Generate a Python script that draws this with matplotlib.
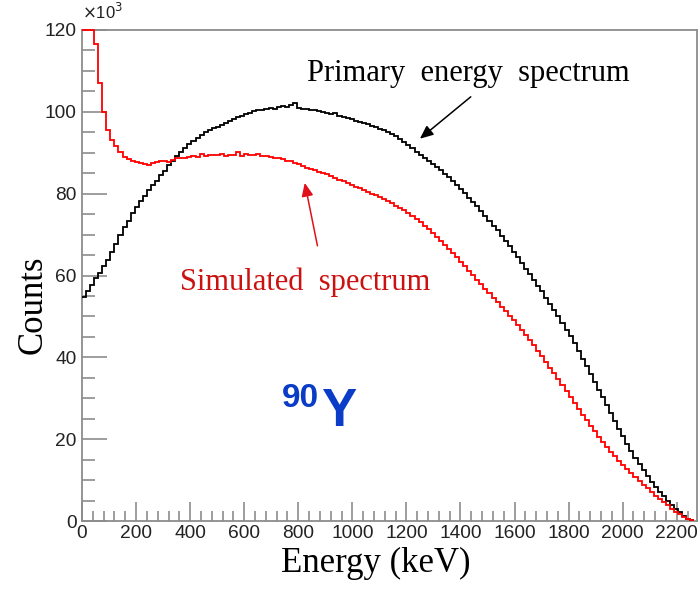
import matplotlib
matplotlib.use("Agg")
import matplotlib.pyplot as plt
from matplotlib.ticker import MultipleLocator
import numpy as np

# histogram binning (keV)
bin_width = 15
n_bins = 151
edges = np.arange(n_bins + 1) * bin_width

# primary energy spectrum (x10^3 counts per bin)
primary = [
    54.8, 56.3, 57.8, 59.3, 60.6, 62.3, 63.8, 65.7, 67.8, 70.0,
    71.8, 73.4, 75.2, 76.7, 78.1, 79.5, 80.8, 82.0, 83.2, 84.5,
    85.6, 86.9, 88.0, 89.2, 90.1, 91.2, 92.1, 92.9, 93.6, 94.3,
    95.0, 95.5, 96.0, 96.4, 96.9, 97.3, 97.8, 98.2, 98.7, 99.1,
    99.5, 99.8, 100.3, 100.5, 100.4, 100.8, 101.0, 100.8, 101.2, 101.4,
    101.3, 101.6, 102.1, 100.9, 100.8, 100.6, 100.4, 100.5, 100.1, 99.9,
    99.8, 99.4, 99.6, 99.0, 98.8, 98.5, 98.3, 97.8, 97.6, 97.3,
    97.0, 96.6, 96.3, 95.9, 95.6, 95.0, 94.5, 94.0, 93.3, 92.7,
    91.9, 91.1, 90.3, 89.5, 88.8, 88.0, 87.3, 86.5, 85.7, 84.9,
    84.0, 83.1, 82.2, 81.1, 80.1, 79.0, 78.0, 76.9, 75.8, 74.6,
    73.4, 72.2, 71.0, 69.7, 68.4, 67.1, 65.7, 64.4, 63.0, 61.7,
    60.3, 58.9, 57.5, 56.1, 54.6, 53.1, 51.6, 50.0, 48.4, 46.8,
    45.1, 43.4, 41.6, 39.7, 37.8, 35.9, 34.0, 32.1, 30.2, 28.3,
    26.4, 24.5, 22.6, 20.7, 18.9, 17.2, 15.5, 13.9, 12.4, 11.0,
    9.6, 8.3, 7.1, 6.0, 4.9, 3.9, 3.0, 2.1, 1.3, 0.6,
    0.15,
]

# simulated spectrum (x10^3 counts per bin)
simulated = [
    165.0, 140.0, 124.0, 116.7, 107.0, 100.0, 95.5, 93.0, 91.6, 90.1,
    89.0, 88.4, 87.9, 87.7, 87.6, 87.3, 86.9, 87.4, 87.7, 87.9,
    87.9, 87.7, 88.3, 88.6, 88.7, 88.8, 89.0, 89.1, 89.0, 89.6,
    89.3, 89.4, 89.5, 89.4, 89.6, 89.3, 89.5, 89.4, 90.3, 89.2,
    89.6, 89.5, 89.4, 89.6, 89.2, 89.3, 88.9, 88.6, 88.7, 88.5,
    88.1, 87.9, 87.5, 87.2, 86.8, 86.3, 86.1, 85.8, 85.4, 85.0,
    84.7, 84.2, 83.8, 83.4, 83.0, 82.5, 82.1, 81.7, 81.3, 80.9,
    80.5, 80.0, 79.6, 79.2, 78.7, 78.2, 77.6, 77.0, 76.4, 75.9,
    75.2, 74.5, 73.8, 73.0, 72.2, 71.3, 70.4, 69.4, 68.5, 67.5,
    66.5, 65.5, 64.4, 63.4, 62.3, 61.2, 60.1, 59.0, 57.9, 56.8,
    55.7, 54.6, 53.5, 52.4, 51.3, 50.2, 49.1, 47.9, 46.7, 45.5,
    44.2, 42.9, 41.6, 40.3, 38.9, 37.5, 36.1, 34.6, 33.2, 31.7,
    30.3, 28.8, 27.4, 25.9, 24.6, 23.2, 21.9, 20.6, 19.3, 18.1,
    16.9, 15.8, 14.7, 13.7, 12.7, 11.7, 10.7, 9.8, 8.9, 8.0,
    7.1, 6.2, 5.4, 4.6, 3.8, 3.0, 2.3, 1.6, 1.0, 0.5,
    0.15,
]

xmax = 2275
ymax = 120
frame_col = "#8c8c8c"
text_red = "#cc1111"

fig = plt.figure(figsize=(6.99, 5.89), dpi=100)
ax = fig.add_axes([82 / 699, 1 - 521 / 589, 615 / 699, 491 / 589])

# ROOT-like: bins above the frame are drawn on the frame top
ax.stairs(np.minimum(primary, ymax), edges, color="black", linewidth=1.3,
          baseline=None, zorder=3)
ax.stairs(np.minimum(simulated, ymax), edges, color="#ff0000", linewidth=1.3,
          baseline=None, zorder=3, clip_on=False)

ax.set_xlim(0, xmax)
ax.set_ylim(0, ymax)

for s in ax.spines.values():
    s.set_color(frame_col)
    s.set_linewidth(1.3)

ax.xaxis.set_major_locator(MultipleLocator(200))
ax.xaxis.set_minor_locator(MultipleLocator(40))
ax.yaxis.set_major_locator(MultipleLocator(20))
ax.yaxis.set_minor_locator(MultipleLocator(5))
ax.tick_params(which="both", direction="in", color=frame_col, width=1.2,
               top=False, right=False, labelsize=13.8, labelcolor="#222222")
ax.tick_params(axis="y", which="major", length=18, pad=4)
ax.tick_params(axis="y", which="minor", length=9)
ax.tick_params(axis="x", which="major", length=14, pad=3)
ax.tick_params(axis="x", which="minor", length=7)
for lab in ax.get_xticklabels() + ax.get_yticklabels():
    lab.set_family("Liberation Sans")

ax.set_xlabel("Energy (keV)", family="Liberation Serif", fontsize=25)
ax.set_ylabel("Counts", family="Liberation Serif", fontsize=25)
ax.xaxis.set_label_coords(0.478, -0.052)
ax.yaxis.set_label_coords(-0.053, 0.44)

# x10^3 multiplier
fig.text(82 / 699, 1 - 12 / 589, r"$\times$10$^{3}$", family="Liberation Sans",
         fontsize=12, color="#222222", ha="left", va="center")

# annotations
ax.text(1428, 109.3, "Primary  energy  spectrum", family="Liberation Serif",
        fontsize=22, color="black", ha="center", va="center")
ax.annotate("", xy=(1242, 93.0), xytext=(1446, 104.1),
            arrowprops=dict(arrowstyle="-|>,head_length=0.8,head_width=0.35",
                            color="black", lw=1.1))

ax.text(825, 58.3, "Simulated  spectrum", family="Liberation Serif",
        fontsize=22, color=text_red, ha="center", va="center")
ax.annotate("", xy=(822, 83.3), xytext=(873, 66.6),
            arrowprops=dict(arrowstyle="-|>,head_length=0.8,head_width=0.35",
                            color="#e0101a", lw=1.1))

ax.text(875, 30.0, "90", family="Liberation Sans", fontweight="bold",
        fontsize=24, color="#0a3cc8", ha="right", va="center")
ax.text(885, 26.6, "Y", family="Liberation Sans", fontweight="bold",
        fontsize=38, color="#0a3cc8", ha="left", va="center")

fig.savefig("out.png", dpi=100)
